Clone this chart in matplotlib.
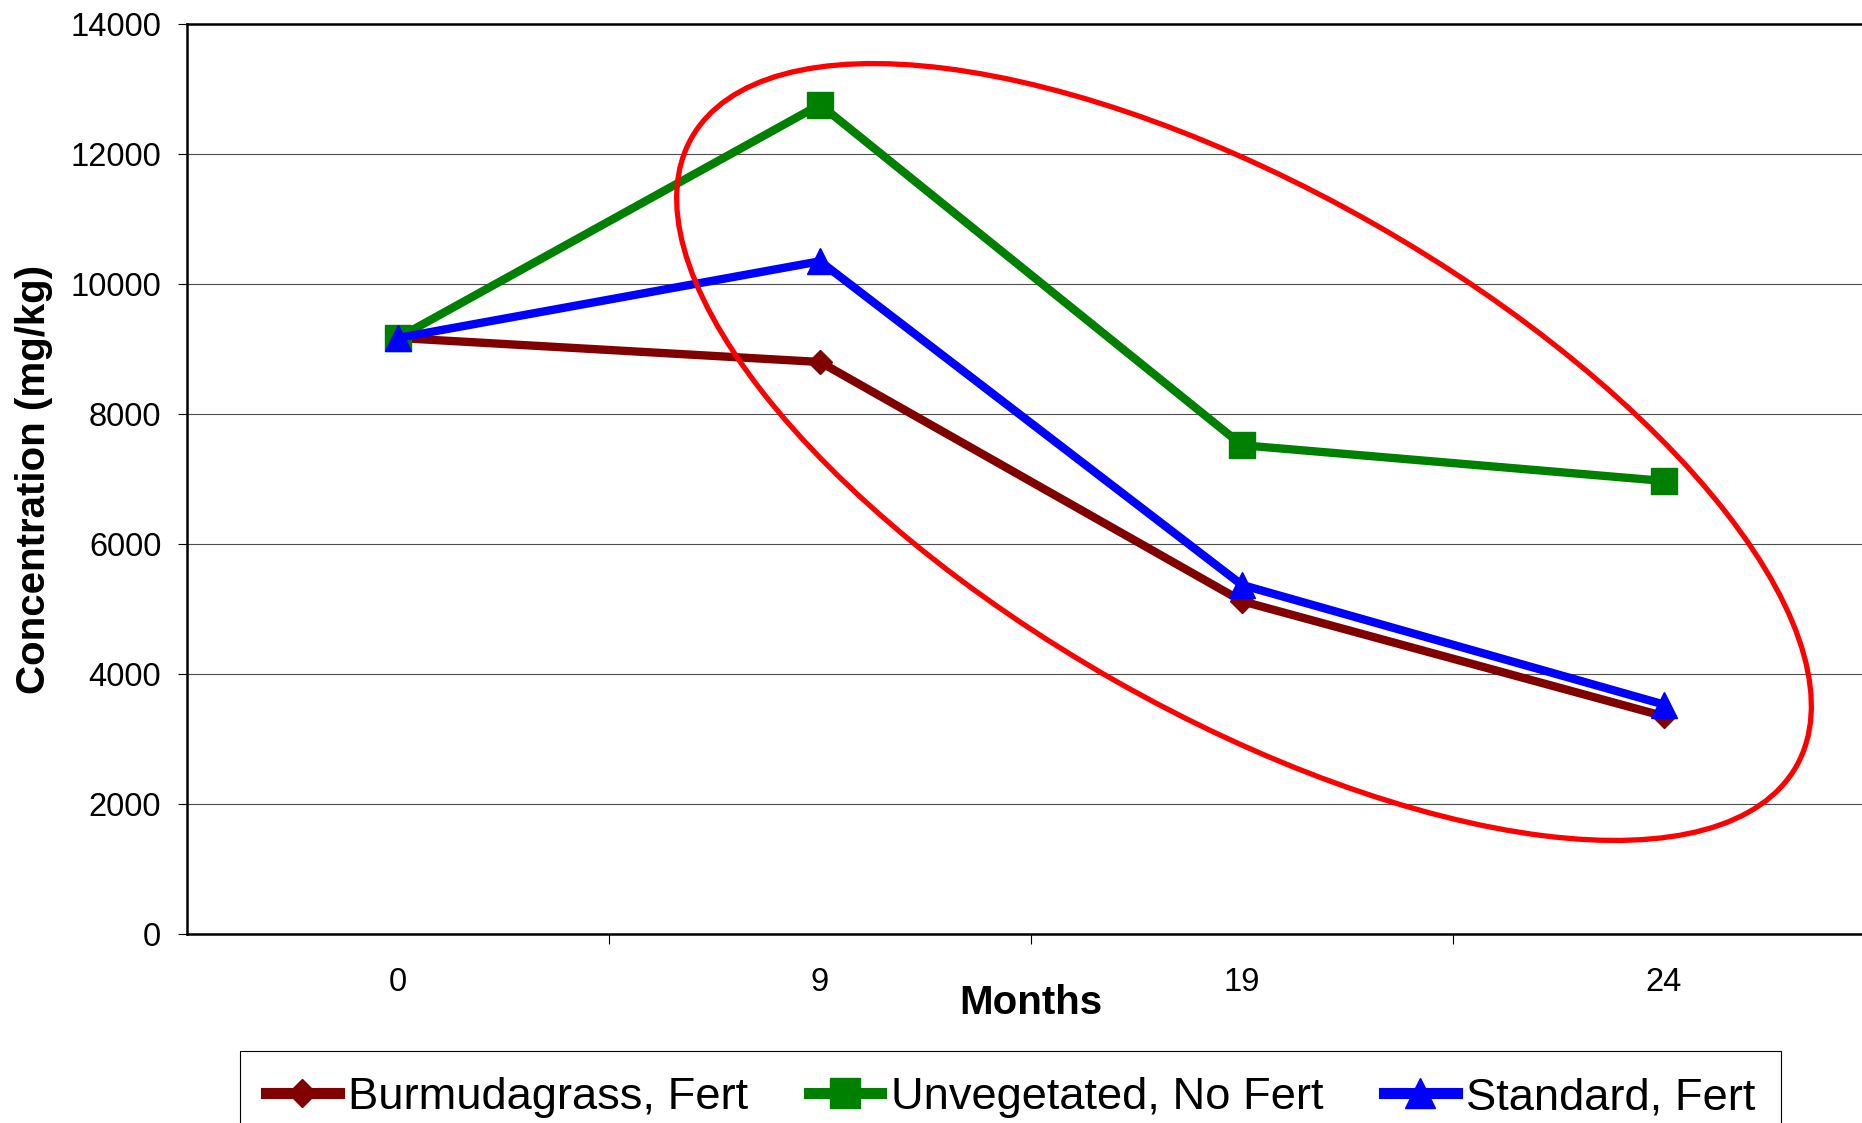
import matplotlib.pyplot as plt
from matplotlib.patches import Ellipse

plt.rcParams['font.family'] = ['Liberation Sans', 'DejaVu Sans']

# Concentration over time for each treatment
months = ['0', '9', '19', '24']
burmudagrass = [9170, 8800, 5120, 3350]
unvegetated = [9170, 12760, 7520, 6970]
standard = [9170, 10350, 5370, 3530]
labels = ['Burmudagrass, Fert', 'Unvegetated, No Fert', 'Standard, Fert']
yticks = [0, 2000, 4000, 6000, 8000, 10000, 12000, 14000]

fig = plt.figure(figsize=(18.62, 11.23), dpi=100)
ax = fig.add_axes([0.10043, 0.16830, 0.90655, 0.81033])

x = range(len(months))
ax.plot(x, burmudagrass, color='#800000', lw=6, marker='D', ms=12.5, label=labels[0])
ax.plot(x, unvegetated, color='#008000', lw=6, marker='s', ms=19, label=labels[1])
ax.plot(x, standard, color='#0000ff', lw=6, marker='^', ms=19, label=labels[2])

ax.set_xlim(-0.5, 3.5)
ax.set_ylim(0, 14000)
ax.set_yticks(yticks)
ax.set_yticklabels([str(v) for v in yticks], fontsize=23.5)
ax.tick_params(axis='y', direction='out', length=6.5, width=0.8, pad=12)
ax.yaxis.grid(True, color='#4d4d4d', lw=0.8)
ax.set_axisbelow(True)

# ticks between categories, labels under each category
ax.set_xticks([0.5, 1.5, 2.5])
ax.set_xticklabels([])
ax.tick_params(axis='x', which='major', direction='out', length=7, width=0.8)
ax.set_xticks(list(x), minor=True)
ax.set_xticklabels(months, minor=True, fontsize=23.5)
ax.tick_params(axis='x', which='minor', length=0, pad=24)

for s in ax.spines.values():
    s.set_linewidth(1.8)

ax.set_xlabel('Months', fontsize=29, fontweight='bold', va='baseline')
ax.xaxis.set_label_coords(0.5, -0.0879)
ax.set_ylabel('Concentration (mg/kg)', fontsize=29, fontweight='bold', va='center')
ax.yaxis.set_label_coords(-0.0906, 0.5)

leg = fig.legend(loc='upper left', bbox_to_anchor=(240 / 1862, 1 - 1051 / 1123), ncol=3,
                 fontsize=32.6, handlelength=1.6, handletextpad=0.2, columnspacing=1.35,
                 borderpad=0.58, borderaxespad=0, fancybox=False, edgecolor='black',
                 framealpha=1, markerscale=1.1)
leg.get_frame().set_linewidth(0.8)
for h in leg.legend_handles:
    h.set_linewidth(8)

# red oval highlighting the later months
oval = Ellipse((12.44, 6.71), 12.71, 5.25, angle=-29.65, fill=False,
               edgecolor='#ff0000', lw=3.8, transform=fig.dpi_scale_trans)
fig.add_artist(oval)

fig.savefig('out.png', dpi=100)
